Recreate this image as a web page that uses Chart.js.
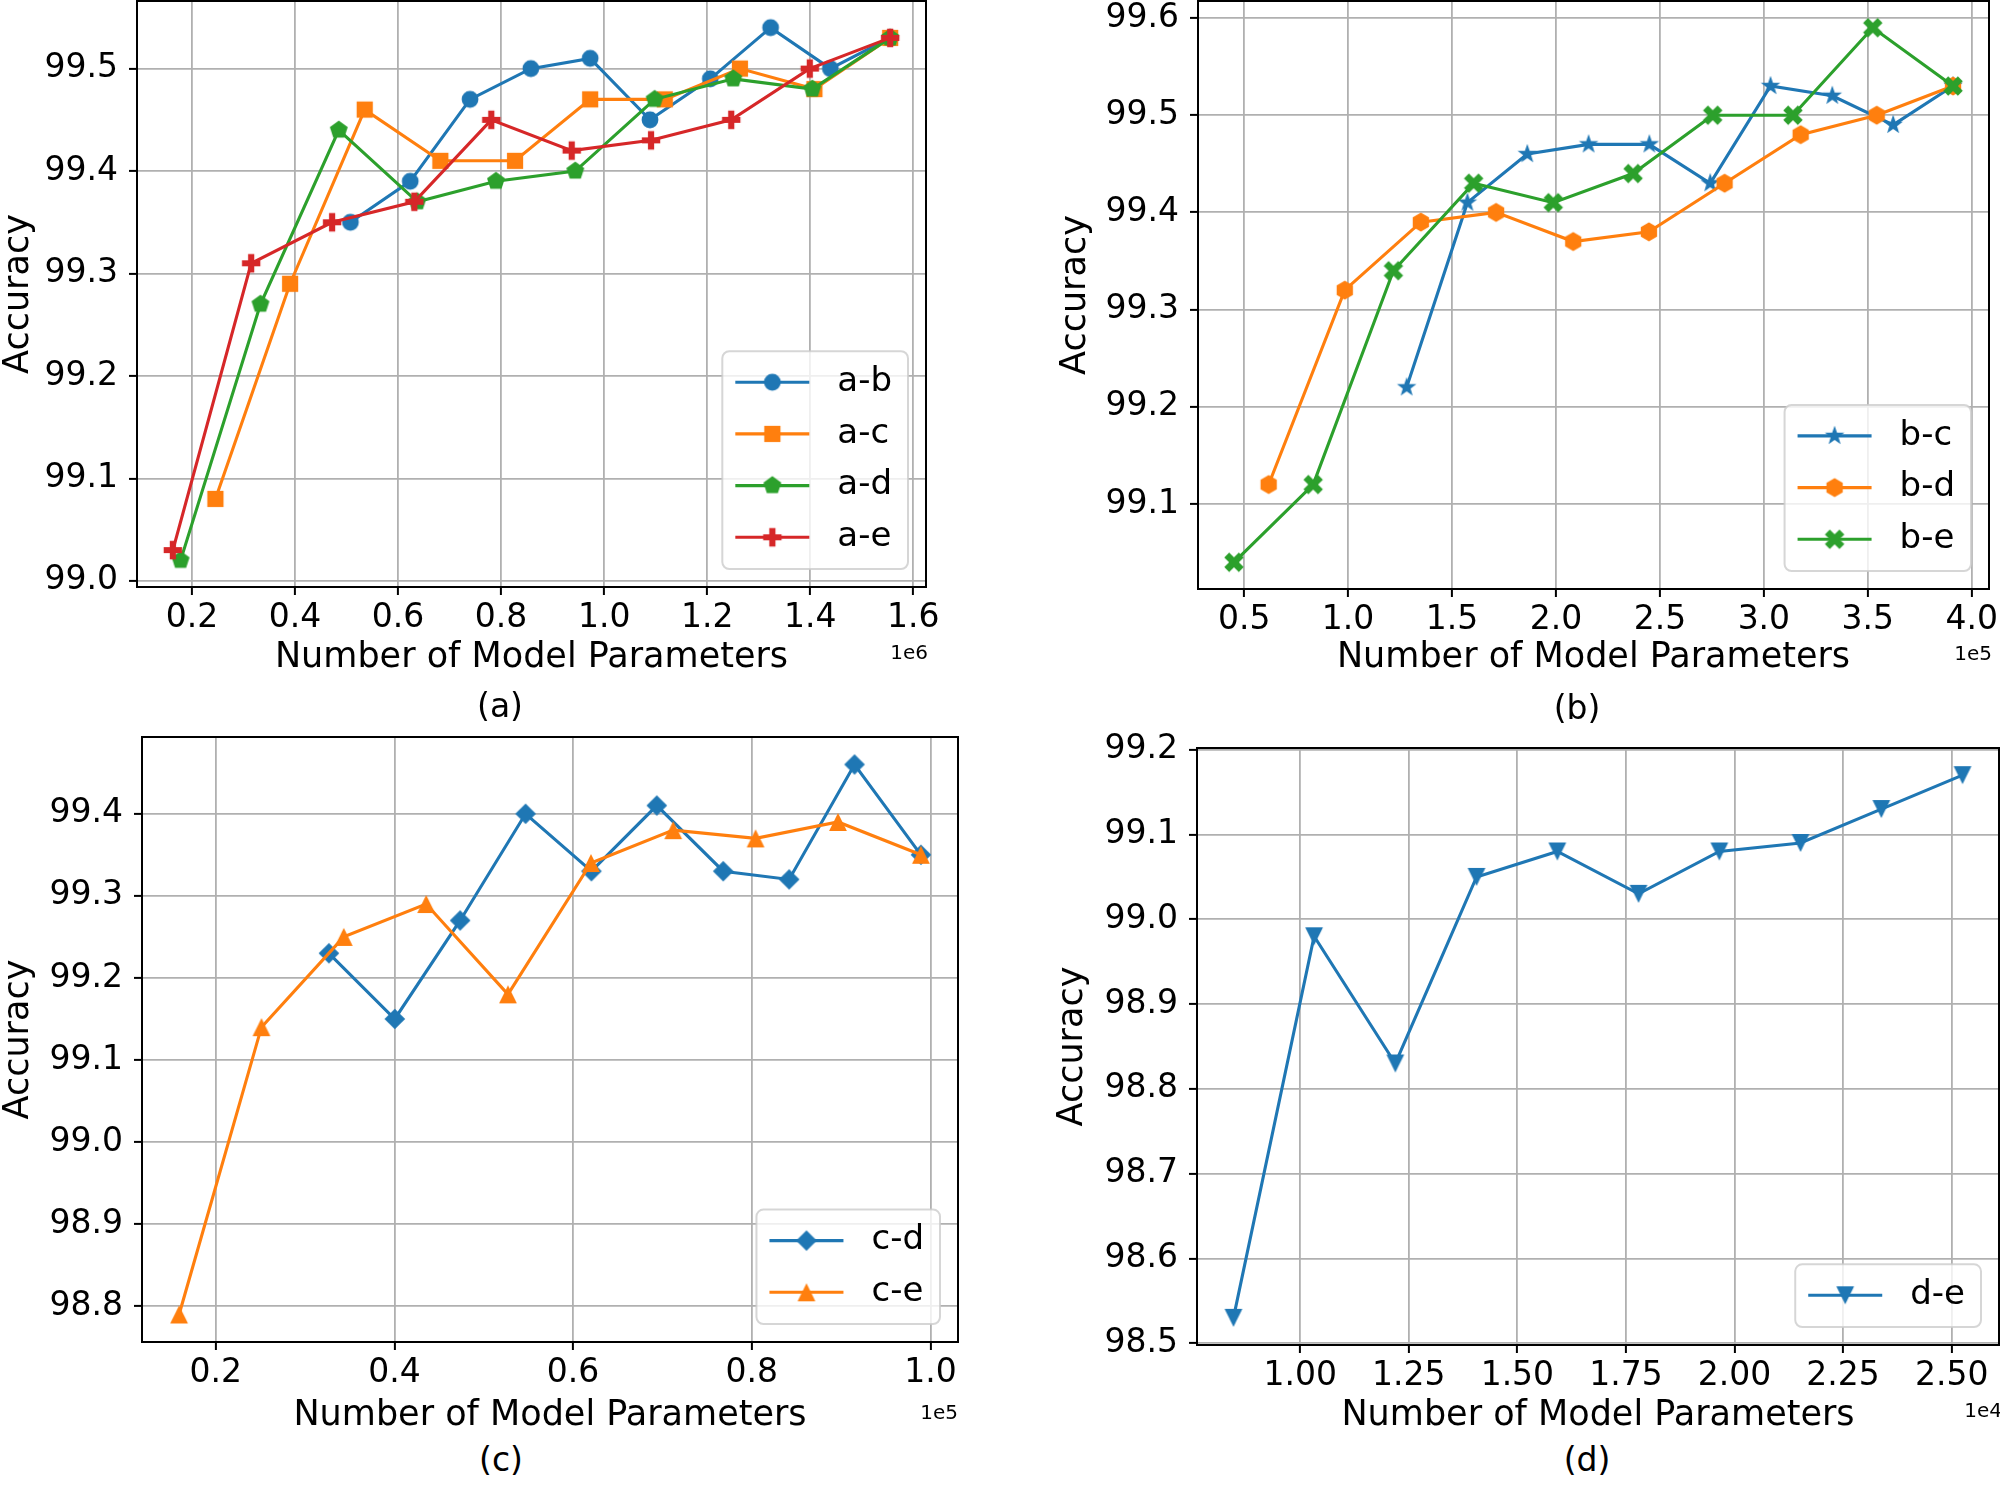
<!DOCTYPE html>
<html>
<head>
<meta charset="utf-8">
<script src="https://cdn.jsdelivr.net/npm/chart.js@4.4.1/dist/chart.umd.min.js"></script>
<style>
  body { margin: 0; width: 2000px; height: 1500px; background: #fff; position: relative; overflow: hidden; font-family: "DejaVu Sans"; }
  canvas { position: absolute; }
  .cap { position: absolute; font-size: 33px; transform: translate(-50%, -50%); white-space: nowrap; }
  .off { position: absolute; font-size: 20px; transform: translate(-100%, -50%); white-space: nowrap; }
</style>
</head>
<body>
<canvas id="chartA"></canvas>
<canvas id="chartB"></canvas>
<canvas id="chartC"></canvas>
<canvas id="chartD"></canvas>
<div class="cap" style="left:500px;top:705px">(a)</div>
<div class="cap" style="left:1577px;top:707px">(b)</div>
<div class="cap" style="left:501px;top:1459px">(c)</div>
<div class="cap" style="left:1587px;top:1459px">(d)</div>
<div class="off" style="left:928px;top:652px">1e6</div>
<div class="off" style="left:1992px;top:653px">1e5</div>
<div class="off" style="left:958px;top:1412px">1e5</div>
<div class="off" style="left:2002px;top:1410px">1e4</div>
<script>
"use strict";

// panel (a)
const abParams = [507500, 623600, 739700, 857700, 972800, 1088900, 1206000, 1323000, 1439000, 1555000];
const abAcc = [99.35, 99.39, 99.47, 99.50, 99.51, 99.45, 99.49, 99.54, 99.50, 99.53];
const acParams = [245600, 390500, 535300, 682100, 827000, 972800, 1117700, 1263500, 1408000, 1555000];
const acAcc = [99.08, 99.29, 99.46, 99.41, 99.41, 99.47, 99.47, 99.50, 99.48, 99.53];
const adParams = [178000, 333000, 485000, 637500, 790000, 944000, 1098000, 1250600, 1404000, 1555000];
const adAcc = [99.02, 99.27, 99.44, 99.37, 99.39, 99.40, 99.47, 99.49, 99.48, 99.53];
const aeParams = [163000, 315000, 472000, 631600, 781000, 937000, 1091000, 1246600, 1399000, 1555000];
const aeAcc = [99.03, 99.31, 99.35, 99.37, 99.45, 99.42, 99.43, 99.45, 99.50, 99.53];
const aXTicks = [200000, 400000, 600000, 800000, 1000000, 1200000, 1400000, 1600000];
const aYTicks = [99.0, 99.1, 99.2, 99.3, 99.4, 99.5];

// panel (b)
const bcParams = [128170, 157400, 186200, 215700, 244900, 274200, 303200, 332900, 362200, 391000];
const bcAcc = [99.22, 99.41, 99.46, 99.47, 99.47, 99.43, 99.53, 99.52, 99.49, 99.53];
const bdParams = [61800, 98400, 135000, 171200, 208300, 244700, 281100, 317700, 354300, 391000];
const bdAcc = [99.12, 99.32, 99.39, 99.40, 99.37, 99.38, 99.43, 99.48, 99.50, 99.53];
const beParams = [45100, 83200, 121800, 160400, 198700, 237100, 275400, 314000, 352400, 391000];
const beAcc = [99.04, 99.12, 99.34, 99.43, 99.41, 99.44, 99.50, 99.50, 99.59, 99.53];
const bXTicks = [50000, 100000, 150000, 200000, 250000, 300000, 350000, 400000];
const bYTicks = [99.1, 99.2, 99.3, 99.4, 99.5, 99.6];

// panel (c)
const cdParams = [32670, 40040, 47360, 54680, 62050, 69370, 76800, 84180, 91500, 98930];
const cdAcc = [99.23, 99.15, 99.27, 99.40, 99.33, 99.41, 99.33, 99.32, 99.46, 99.35];
const ceParams = [15900, 25120, 34330, 43550, 52710, 62000, 71210, 80430, 89650, 98930];
const ceAcc = [98.79, 99.14, 99.25, 99.29, 99.18, 99.34, 99.38, 99.37, 99.39, 99.35];
const cXTicks = [20000, 40000, 60000, 80000, 100000];
const cYTicks = [98.8, 98.9, 99.0, 99.1, 99.2, 99.3, 99.4];

// panel (d)
const deParams = [8463, 10320, 12190, 14060, 15920, 17790, 19650, 21520, 23380, 25250];
const deAcc = [98.53, 98.98, 98.83, 99.05, 99.08, 99.03, 99.08, 99.09, 99.13, 99.17];
const dXTicks = [10000, 12500, 15000, 17500, 20000, 22500, 25000];
const dYTicks = [98.5, 98.6, 98.7, 98.8, 98.9, 99.0, 99.1, 99.2];

const BLUE = "#1f77b4", ORANGE = "#ff7f0e", GREEN = "#2ca02c", RED = "#d62728";

Chart.defaults.font.family = '"DejaVu Sans"';
Chart.defaults.color = "#000";

function poly(g, pts) {
  g.moveTo(pts[0][0], pts[0][1]);
  for (let i = 1; i < pts.length; i++) g.lineTo(pts[i][0], pts[i][1]);
  g.closePath();
}

function regular(n, r, start) {
  let pts = [];
  for (let k = 0; k < n; k++) {
    let a = (start + k * 360 / n) * Math.PI / 180;
    pts.push([r * Math.cos(a), r * Math.sin(a)]);
  }
  return pts;
}

// marker images, drawn once and handed to chart.js as pointStyle
function markerCanvas(shape, color) {
  const s = 30;
  const c = document.createElement("canvas");
  c.width = s; c.height = s;
  const g = c.getContext("2d");
  g.translate(s / 2, s / 2);
  g.fillStyle = color;
  g.beginPath();
  if (shape === "circle") {
    g.arc(0, 0, 8.4, 0, Math.PI * 2);
  } else if (shape === "square") {
    g.rect(-8.1, -8.1, 16.2, 16.2);
  } else if (shape === "pentagon") {
    poly(g, regular(5, 9.4, -90));
  } else if (shape === "hexagon") {
    poly(g, regular(6, 9.4, -90));
  } else if (shape === "plus" || shape === "x") {
    const w = 9.2, a = 3.1;
    let pts = [[-a, -w], [a, -w], [a, -a], [w, -a], [w, a], [a, a], [a, w], [-a, w], [-a, a], [-w, a], [-w, -a], [-a, -a]];
    if (shape === "x") {
      const k = Math.SQRT1_2 * 1.12;
      pts = pts.map(p => [(p[0] - p[1]) * k, (p[0] + p[1]) * k]);
    }
    poly(g, pts);
  } else if (shape === "star") {
    let pts = [];
    for (let k = 0; k < 10; k++) {
      let r = k % 2 === 0 ? 10.2 : 4.1;
      let a = (-90 + k * 36) * Math.PI / 180;
      pts.push([r * Math.cos(a), r * Math.sin(a)]);
    }
    poly(g, pts);
  } else if (shape === "diamond") {
    poly(g, [[0, -10.3], [10.3, 0], [0, 10.3], [-10.3, 0]]);
  } else if (shape === "triUp") {
    poly(g, [[0, -8.9], [8.9, 8.9], [-8.9, 8.9]]);
  } else if (shape === "triDown") {
    poly(g, [[0, 8.9], [-8.9, -8.9], [8.9, -8.9]]);
  }
  g.fill();
  return c;
}

// frame on all four sides + legend inside the lower right corner
const frameAndLegend = {
  id: "frameAndLegend",
  afterDatasetsDraw(chart) {
    const ctx = chart.ctx, area = chart.chartArea;
    const sets = chart.data.datasets;
    ctx.save();
    ctx.strokeStyle = "#000";
    ctx.lineWidth = 2;
    ctx.strokeRect(area.left, area.top, area.right - area.left, area.bottom - area.top);

    ctx.font = '34px "DejaVu Sans"';
    let tw = Math.max(...sets.map(d => ctx.measureText(d.label).width));
    const rowH = 51.7;
    const w = 13 + 74 + 28 + tw + 16, h = sets.length * rowH + 11;
    const x = area.right - 18 - w, y = area.bottom - 18 - h;
    ctx.beginPath();
    ctx.roundRect(x, y, w, h, 7);
    ctx.fillStyle = "rgba(255,255,255,0.8)";
    ctx.fill();
    ctx.strokeStyle = "rgba(204,204,204,0.8)";
    ctx.lineWidth = 2;
    ctx.stroke();
    sets.forEach((d, i) => {
      const cy = y + 31 + i * rowH;
      ctx.strokeStyle = d.borderColor;
      ctx.lineWidth = d.borderWidth;
      ctx.beginPath();
      ctx.moveTo(x + 13, cy);
      ctx.lineTo(x + 87, cy);
      ctx.stroke();
      const img = d.pointStyle;
      ctx.drawImage(img, x + 50 - img.width / 2, cy - img.height / 2);
      ctx.fillStyle = "#000";
      ctx.textAlign = "left";
      ctx.textBaseline = "middle";
      ctx.fillText(d.label, x + 115, cy);
    });
    ctx.restore();
  }
};

function range(lists) {
  let all = [].concat(...lists);
  let lo = Math.min(...all), hi = Math.max(...all);
  let m = (hi - lo) * 0.05;
  return [lo - m, hi + m];
}

function makePanel(id, spec, series, xTicks, yTicks, xDigits, xScale) {
  const canvas = document.getElementById(id);
  const padRight = 12;
  const W = spec.area.r - spec.left + padRight;
  const H = spec.area.b - spec.top + spec.xAxisH;
  canvas.width = W; canvas.height = H;
  canvas.style.left = spec.left + "px";
  canvas.style.top = spec.top + "px";

  const xr = range(series.map(s => s.x));
  const yr = range(series.map(s => s.y));
  const n = series.length;

  const datasets = series.map((s, i) => ({
    label: s.label,
    data: s.x.map((v, k) => ({ x: v, y: s.y[k] })),
    borderColor: s.color,
    backgroundColor: s.color,
    borderWidth: 3.1,
    pointStyle: markerCanvas(s.marker, s.color),
    pointRadius: 9,
    showLine: true,
    tension: 0,
    order: n - i
  }));

  const gridOpts = { color: "#b0b0b0", lineWidth: 1.8, tickColor: "#000", tickWidth: 2, tickLength: 8 };

  return new Chart(canvas, {
    type: "scatter",
    data: { datasets: datasets },
    options: {
      responsive: false,
      animation: false,
      devicePixelRatio: 1,
      layout: { autoPadding: false, padding: { top: spec.area.t - spec.top, right: padRight, left: 0, bottom: 0 } },
      plugins: { legend: { display: false }, tooltip: { enabled: false } },
      scales: {
        x: {
          type: "linear",
          min: xr[0], max: xr[1],
          grid: gridOpts,
          border: { display: true, color: "#000", width: 2 },
          ticks: { font: { size: 33 }, padding: 4, autoSkip: false, maxRotation: 0,
                   callback: (v) => (v / xScale).toFixed(xDigits) },
          title: { display: true, text: "Number of Model Parameters", font: { size: 35 }, padding: 0 },
          afterBuildTicks: (axis) => { axis.ticks = xTicks.map(v => ({ value: v })); },
          afterFit: (axis) => { axis.height = spec.xAxisH; axis.paddingLeft = 0; axis.paddingRight = 0; }
        },
        y: {
          type: "linear",
          min: yr[0], max: yr[1],
          grid: gridOpts,
          border: { display: true, color: "#000", width: 2 },
          ticks: { font: { size: 33 }, padding: 11, autoSkip: false,
                   callback: (v) => v.toFixed(1) },
          title: { display: true, text: "Accuracy", font: { size: 35 }, padding: 0 },
          afterBuildTicks: (axis) => { axis.ticks = yTicks.map(v => ({ value: v })); },
          afterFit: (axis) => { axis.width = spec.area.l - spec.left; axis.paddingTop = 0; axis.paddingBottom = 0; }
        }
      }
    },
    plugins: [frameAndLegend]
  });
}

makePanel("chartA",
  { left: -2, top: 0, area: { l: 137, t: 1, r: 926, b: 587 }, xAxisH: 92 },
  [
    { label: "a-b", x: abParams, y: abAcc, color: BLUE, marker: "circle" },
    { label: "a-c", x: acParams, y: acAcc, color: ORANGE, marker: "square" },
    { label: "a-d", x: adParams, y: adAcc, color: GREEN, marker: "pentagon" },
    { label: "a-e", x: aeParams, y: aeAcc, color: RED, marker: "plus" }
  ], aXTicks, aYTicks, 1, 1e6);

makePanel("chartB",
  { left: 1055, top: 0, area: { l: 1198, t: 1, r: 1989, b: 589 }, xAxisH: 90 },
  [
    { label: "b-c", x: bcParams, y: bcAcc, color: BLUE, marker: "star" },
    { label: "b-d", x: bdParams, y: bdAcc, color: ORANGE, marker: "hexagon" },
    { label: "b-e", x: beParams, y: beAcc, color: GREEN, marker: "x" }
  ], bXTicks, bYTicks, 1, 1e5);

makePanel("chartC",
  { left: -2, top: 700, area: { l: 142, t: 737, r: 958, b: 1342 }, xAxisH: 95 },
  [
    { label: "c-d", x: cdParams, y: cdAcc, color: BLUE, marker: "diamond" },
    { label: "c-e", x: ceParams, y: ceAcc, color: ORANGE, marker: "triUp" }
  ], cXTicks, cYTicks, 1, 1e5);

makePanel("chartD",
  { left: 1052, top: 700, area: { l: 1197, t: 748, r: 1999, b: 1345 }, xAxisH: 92 },
  [
    { label: "d-e", x: deParams, y: deAcc, color: BLUE, marker: "triDown" }
  ], dXTicks, dYTicks, 2, 1e4);
</script>
</body>
</html>
